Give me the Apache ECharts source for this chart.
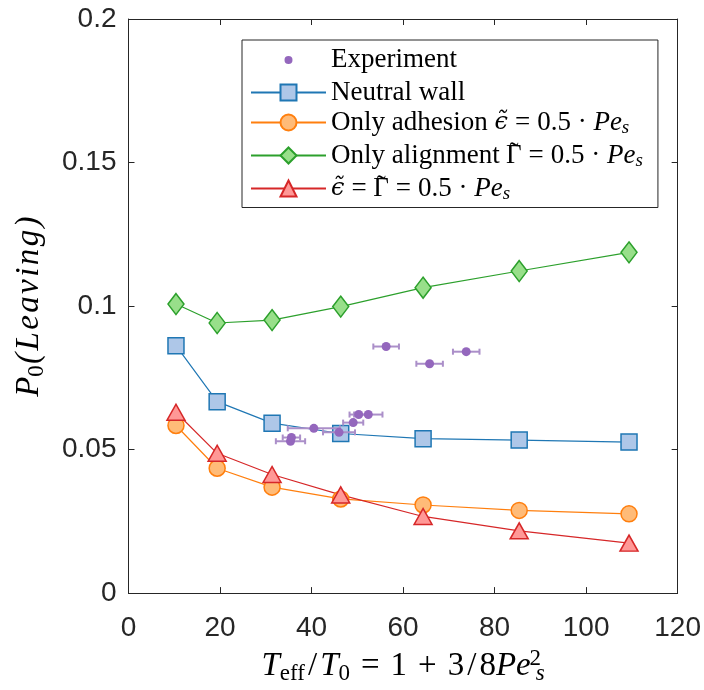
<!DOCTYPE html>
<html><head><meta charset="utf-8">
<script src="https://cdn.jsdelivr.net/npm/echarts@6/dist/echarts.min.js"></script>
<style>html,body{margin:0;padding:0;background:#fff}#c{width:704px;height:690px}</style>
</head><body><div id="c"></div>
<script>
const xVals = [10.375, 19.375, 31.375, 46.375, 64.375, 85.375, 109.375];
const neutralWall = [0.0862, 0.0667, 0.0592, 0.0556, 0.0538, 0.0533, 0.0526];
const onlyAdhesion = [0.0584, 0.0435, 0.0369, 0.0328, 0.0307, 0.0288, 0.0276];
const onlyAlignment = [0.1007, 0.0941, 0.0951, 0.0998, 0.1064, 0.1122, 0.1187];
const bothWall = [0.0630, 0.0487, 0.0413, 0.0342, 0.0267, 0.0217, 0.0174];
const expX = [56.3, 65.8, 73.8, 50.3, 52.4, 49.1, 40.5, 46.0, 35.6, 35.4];
const expY = [0.0859, 0.0799, 0.0841, 0.0622, 0.0622, 0.0594, 0.0574, 0.0560, 0.0542, 0.0529];
const expErr = [2.8, 2.9, 2.9, 2.0, 3.1, 2.2, 5.7, 3.5, 1.9, 3.2];
const xTicks = [0, 20, 40, 60, 80, 100, 120];
const yTicks = [0, 0.05, 0.1, 0.15, 0.2];

const AX = '#262626';
const SERIF = '"Liberation Serif", "DejaVu Serif", serif';
const DJV = '"DejaVu Serif", serif';
const SANS = '"Liberation Sans", Arial, sans-serif';
const mathRich = (fs, lh, opPad) => {
  const s = Math.round(fs * 0.7);
  return {
    r: {fontFamily: SERIF, fontSize: fs, color: '#000', lineHeight: lh},
    i: {fontFamily: SERIF, fontSize: fs, fontStyle: 'italic', color: '#000', lineHeight: lh},
    il: {fontFamily: SERIF, fontSize: fs, fontStyle: 'italic', color: '#000', lineHeight: lh, padding: [0, 1.2, 0, 1.2]},
    op: {fontFamily: SERIF, fontSize: fs, color: '#000', lineHeight: lh, padding: [0, opPad, 0, opPad]},
    sl: {fontFamily: SERIF, fontSize: fs, color: '#000', lineHeight: lh, padding: [0, 3, 0, 3]},
    sub: {fontFamily: SERIF, fontSize: s, color: '#000', lineHeight: s, verticalAlign: 'bottom'},
    subi: {fontFamily: SERIF, fontSize: s, fontStyle: 'italic', color: '#000', lineHeight: s, verticalAlign: 'bottom'},
    supw: {fontFamily: SERIF, fontSize: s, color: '#000', lineHeight: s, verticalAlign: 'top', width: 1, align: 'left', padding: [0, 0, 0, 4]},
    gi: {fontFamily: DJV, fontSize: Math.round(fs * 0.9), fontStyle: 'italic', color: '#000', lineHeight: lh},
    tlc: {fontFamily: SERIF, fontSize: fs, color: '#000', lineHeight: Math.round(lh * 0.62), verticalAlign: 'top', width: -3.5, align: 'left', padding: [0, 0, 0, 3]}
  };
};

const EPS = '\u03F5\u0303';
const legendLabels = {
  'Experiment': '{r|Experiment}',
  'Neutral wall': '{r|Neutral wall}',
  'Only adhesion': '{r|Only adhesion }{gi|' + EPS + '}{op|=}{r|0.5 \u00B7 }{i|Pe}{subi|s}',
  'Only alignment': '{r|Only alignment }{tlc|\u02DC}{r|\u0393}{op|=}{r|0.5 \u00B7 }{i|Pe}{subi|s}',
  'Both': '{gi|' + EPS + '}{op|=}{tlc|\u02DC}{r|\u0393}{op|=}{r|0.5 \u00B7 }{i|Pe}{subi|s}'
};

function lineSeries(name, data, symbol, size, line, fill) {
  return {
    name, type: 'line', data: xVals.map((x, i) => [x, data[i]]),
    symbol, symbolSize: size, showSymbol: true,
    lineStyle: {color: line, width: 1.2},
    itemStyle: {color: fill, borderColor: line, borderWidth: 1.5},
    emphasis: {disabled: true}
  };
}

const chart = echarts.init(document.getElementById('c'), null, {renderer: 'canvas'});
const axisCommon = {
  axisLine: {show: true, onZero: false, lineStyle: {color: AX, width: 1}},
  axisTick: {show: true, inside: true, length: 6, lineStyle: {color: AX, width: 1}},
  splitLine: {show: false}
};
chart.setOption({
  animation: false,
  grid: {left: 128.5, right: 25, top: 19, bottom: 95},
  xAxis: [
    Object.assign({}, axisCommon, {
      type: 'value', min: 0, max: 120, interval: 20, position: 'bottom',
      axisLabel: {fontFamily: SANS, fontSize: 28, color: AX, margin: 21,
        formatter: v => String(xTicks.find(t => Math.abs(t - v) < 1e-9) ?? v)},
      name: '{i|T}{sub|eff}{sl|/}{i|T}{sub|0}{op|=}{r|1}{op|+}{r|3}{sl|/}{r|8}{i|Pe}{supw|2}{subi|s}',
      nameLocation: 'middle', nameGap: 41,
      nameTextStyle: {rich: mathRich(33, 38, 11)}
    }),
    Object.assign({}, axisCommon, {
      type: 'value', min: 0, max: 120, interval: 20, position: 'top', axisLabel: {show: false}
    })
  ],
  yAxis: [
    Object.assign({}, axisCommon, {
      type: 'value', min: 0, max: 0.2, interval: 0.05, position: 'left',
      axisLabel: {fontFamily: SANS, fontSize: 28, color: AX, margin: 12,
        formatter: v => String(yTicks.find(t => Math.abs(t - v) < 1e-9) ?? v)},
      name: '{i|P}{sub|0}{il|(}{il|L}{il|e}{il|a}{il|v}{il|i}{il|n}{il|g}{il|)}',
      nameLocation: 'middle', nameGap: 80, nameRotate: 90,
      nameTextStyle: {rich: mathRich(33, 38, 11)}
    }),
    Object.assign({}, axisCommon, {
      type: 'value', min: 0, max: 0.2, interval: 0.05, position: 'right', axisLabel: {show: false}
    })
  ],
  legend: {
    orient: 'vertical', left: 242, top: 40,
    padding: [4, 15, 4, 8], itemGap: 3, itemWidth: 75, itemHeight: 20,
    borderColor: AX, borderWidth: 1, backgroundColor: '#fff',
    selectedMode: false,
    data: [
      {name: 'Experiment', icon: 'circle', itemStyle: {color: '#9467bd', borderColor: '#fff', borderWidth: 12}},
      'Neutral wall', 'Only adhesion', 'Only alignment', 'Both'
    ],
    formatter: n => legendLabels[n],
    textStyle: {rich: mathRich(27, 30, 7)}
  },
  series: [
    lineSeries('Neutral wall', neutralWall, 'rect', 16, '#1f77b4', '#aec7e8'),
    lineSeries('Only adhesion', onlyAdhesion, 'circle', 16, '#ff7f0e', '#ffbb78'),
    lineSeries('Only alignment', onlyAlignment, 'diamond', [16, 21], '#2ca02c', '#98df8a'),
    lineSeries('Both', bothWall, 'triangle', [18, 16], '#d62728', '#ff9896'),
    {
      name: 'errbars', type: 'custom',
      data: expX.map((x, i) => [x, expY[i], expErr[i]]),
      renderItem: (params, api) => {
        const x = api.value(0), y = api.value(1), e = api.value(2);
        const pL = api.coord([x - e, y]), pR = api.coord([x + e, y]);
        const st = {stroke: '#ab8fc9', lineWidth: 2};
        const cap = 3;
        return {type: 'group', children: [
          {type: 'line', shape: {x1: pL[0], y1: pL[1], x2: pR[0], y2: pR[1]}, style: st},
          {type: 'line', shape: {x1: pL[0], y1: pL[1] - cap, x2: pL[0], y2: pL[1] + cap}, style: st},
          {type: 'line', shape: {x1: pR[0], y1: pR[1] - cap, x2: pR[0], y2: pR[1] + cap}, style: st}
        ]};
      },
      z: 5
    },
    {
      name: 'Experiment', type: 'scatter',
      data: expX.map((x, i) => [x, expY[i]]),
      symbol: 'circle', symbolSize: 9,
      itemStyle: {color: '#9467bd', opacity: 1},
      z: 6
    }
  ]
});
</script></body></html>
